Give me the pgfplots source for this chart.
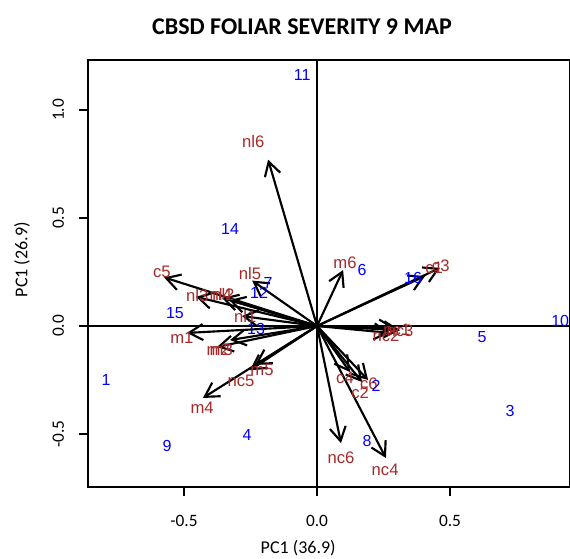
\documentclass[border=0pt]{standalone}
\usepackage{fontspec}
\setmainfont{Carlito}
\newfontfamily\arial{Liberation Sans}
\usepackage{pgfplots}
\usepackage{pgfplotstable}
\pgfplotsset{compat=1.18}
\usetikzlibrary{arrows.meta}
\definecolor{rbrown}{HTML}{A52A2A}

\pgfplotstableread{
lab x y
11 -0.056 1.162
14 -0.327 0.449
7 -0.184 0.199
12 -0.218 0.153
15 -0.534 0.060
13 -0.229 -0.012
1 -0.793 -0.250
9 -0.564 -0.556
4 -0.263 -0.505
6 0.169 0.259
16 0.361 0.222
2 0.222 -0.278
8 0.188 -0.532
5 0.620 -0.051
3 0.726 -0.394
10 0.914 0.023
}\obs

\pgfplotstableread{
lab x y u v lx ly
nl6 0 0 -0.184 0.770 -0.240 0.852
c5 0 0 -0.575 0.225 -0.583 0.250
nl3 0 0 -0.455 0.135 -0.450 0.140
nl2 0 0 -0.357 0.130 -0.352 0.145
nl4 0 0 -0.330 0.120 -0.362 0.148
nl5 0 0 -0.244 0.210 -0.252 0.245
nl1 0 0 -0.282 0.046 -0.270 0.045
m1 0 0 -0.489 -0.032 -0.508 -0.056
m2 0 0 -0.376 -0.097 -0.372 -0.111
m3 0 0 -0.327 -0.065 -0.360 -0.111
m5 0 0 -0.233 -0.180 -0.207 -0.204
nc5 0 0 -0.252 -0.204 -0.286 -0.255
m4 0 0 -0.429 -0.333 -0.432 -0.380
m6 0 0 0.098 0.259 0.105 0.292
c1 0 0 0.406 0.231 0.440 0.270
c3 0 0 0.462 0.269 0.465 0.280
nc2 0 0 0.274 -0.032 0.259 -0.046
nc1 0 0 0.293 -0.009 0.300 -0.020
nc3 0 0 0.312 -0.019 0.312 -0.023
c4 0 0 0.124 -0.213 0.105 -0.241
c6 0 0 0.192 -0.250 0.195 -0.269
c2 0 0 0.169 -0.259 0.162 -0.310
nc6 0 0 0.090 -0.542 0.090 -0.611
nc4 0 0 0.259 -0.611 0.256 -0.667
}\load

\begin{document}
\begin{tikzpicture}
\begin{axis}[
  at={(0,0)}, anchor=south west,
  scale only axis, width=361.5pt, height=320.25pt,
  xmin=-0.861, xmax=0.951, ymin=-0.745, ymax=1.231,
  axis line style={line width=0.9pt},
  xtick={-0.5,0,0.5}, ytick={-0.5,0,0.5,1},
  xtick pos=bottom, ytick pos=left,
  tick align=outside, major tick length=7pt,
  tick style={line width=0.9pt, black},
  xticklabel style={/pgf/number format/fixed,/pgf/number format/fixed zerofill,/pgf/number format/precision=1,font=\fontsize{13}{15}\selectfont, yshift=-10.5pt},
  yticklabel style={/pgf/number format/fixed,/pgf/number format/fixed zerofill,/pgf/number format/precision=1,font=\fontsize{13}{15}\selectfont, rotate=90, anchor=south, yshift=7.5pt},
  /pgf/number format/assume math mode=true,
  xlabel={PC1 (36.9)}, ylabel={PC1 (26.9)},
  xlabel style={at={(axis description cs:0.436,0)}, anchor=center, yshift=-45.75pt, font=\fontsize{13.5}{16}\selectfont},
  ylabel style={at={(axis description cs:0,0.532)}, anchor=center, yshift=49.5pt, font=\fontsize{13.5}{16}\selectfont},
  title={\textbf{CBSD FOLIAR SEVERITY 9 MAP}},
  title style={at={(axis description cs:0.444,1)}, anchor=center, yshift=19pt, font=\fontsize{18}{21}\selectfont},
  clip=true,
]
\addplot[black, line width=0.9pt] coordinates {(-0.861,0) (0.951,0)};
\addplot[black, line width=0.9pt] coordinates {(0,-0.745) (0,1.231)};
\addplot[black, line width=1.6pt,
  quiver={u=\thisrow{u}, v=\thisrow{v},
    every arrow/.append style={-{Straight Barb[length=7pt, angle=60:12pt, line width=1.6pt]}}}]
  table[x=x, y=y] {\load};
\addplot[only marks, mark=none, nodes near coords, point meta=explicit symbolic,
  every node near coord/.style={anchor=center, inner sep=0pt, text=rbrown, font=\arial\fontsize{12.5}{14}\selectfont}]
  table[x=lx, y=ly, meta=lab] {\load};
\addplot[only marks, mark=none, nodes near coords, point meta=explicit symbolic,
  every node near coord/.style={anchor=center, inner sep=0pt, text=blue, font=\arial\fontsize{12}{14}\selectfont}]
  table[x=x, y=y, meta=lab] {\obs};
\end{axis}
\pgfresetboundingbox
\path[use as bounding box] (-66pt,-54pt) rectangle (361.5pt,365.25pt);
\end{tikzpicture}
\end{document}
